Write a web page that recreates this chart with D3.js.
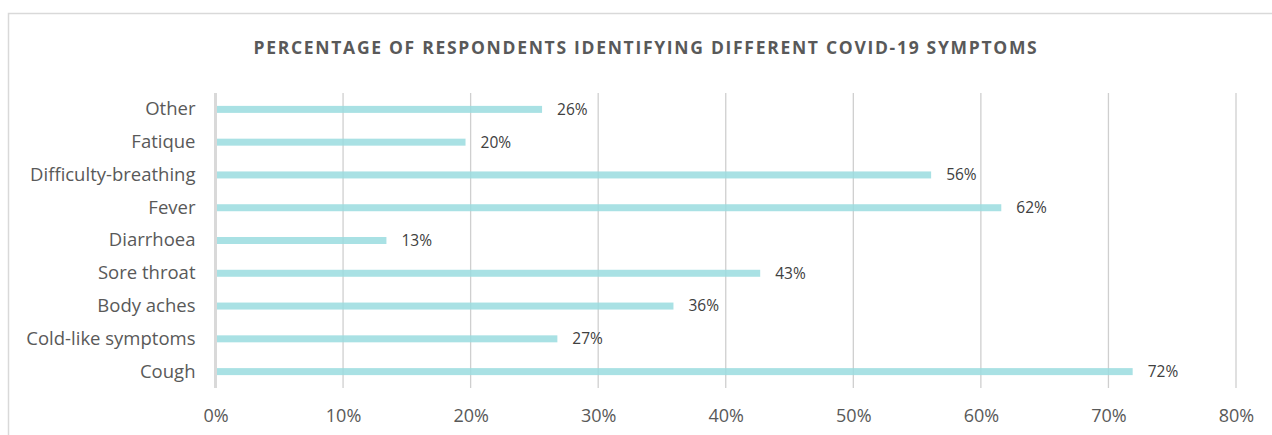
<!DOCTYPE html>
<html>
<head>
<meta charset="utf-8">
<script src="https://cdn.jsdelivr.net/npm/d3@7"></script>
<style>
  html, body { margin: 0; padding: 0; background: #fff; }
  svg { display: block; }
</style>
</head>
<body>
<svg id="chart" width="1272" height="435"></svg>
<script>
// Symptom categories, listed bottom-to-top as drawn
const categories = ["Cough", "Cold-like symptoms", "Body aches", "Sore throat", "Diarrhoea",
                    "Fever", "Difficulty-breathing", "Fatique", "Other"];
// Share of respondents (%) identifying each symptom
const values = [71.9, 26.8, 35.9, 42.7, 13.4, 61.6, 56.1, 19.6, 25.6];
const tickValues = [0, 10, 20, 30, 40, 50, 60, 70, 80];
const title = "PERCENTAGE OF RESPONDENTS IDENTIFYING DIFFERENT COVID-19 SYMPTOMS";

const data = categories.map((c, i) => ({ c, v: values[i] }));

const svg = d3.select("#chart");
const W = 1272, H = 435;
const font = "'Open Sans', sans-serif";

// chart frame (left and top edges of the chart area)
svg.append("path")
  .attr("d", `M8.5,${H} L8.5,13.5 L${W},13.5`)
  .attr("fill", "none").attr("stroke", "#d9d9d9").attr("stroke-width", 1.5);

const x = d3.scaleLinear().domain([0, 80]).range([215.5, 1236]);
const y = d3.scaleBand().domain(categories.slice().reverse()).range([93, 388]).paddingInner(0.78).paddingOuter(0.39);

// title
svg.append("text")
  .attr("x", 646).attr("y", 53.5)
  .attr("text-anchor", "middle")
  .attr("font-family", font).attr("font-weight", "bold")
  .attr("font-size", 17.5).attr("letter-spacing", 1.7)
  .attr("fill", "#595959")
  .text(title);

// vertical gridlines
svg.append("g").selectAll("line")
  .data(tickValues.filter(d => d > 0))
  .join("line")
  .attr("x1", d => x(d)).attr("x2", d => x(d))
  .attr("y1", 93).attr("y2", 388)
  .attr("stroke", "#cfcfcf").attr("stroke-width", 1.3);

// bars
svg.append("g").selectAll("rect")
  .data(data)
  .join("rect")
  .attr("x", x(0))
  .attr("y", d => y(d.c) + y.bandwidth() / 2 - 3.5)
  .attr("width", d => x(d.v) - x(0))
  .attr("height", 7)
  .attr("fill", "#9adcdf")
  .attr("fill-opacity", 0.85);

// zero baseline
svg.append("line")
  .attr("x1", x(0)).attr("x2", x(0))
  .attr("y1", 93).attr("y2", 388)
  .attr("stroke", "#d9d9d9").attr("stroke-width", 3);

// value labels
svg.append("g").selectAll("text")
  .data(data)
  .join("text")
  .attr("x", d => x(d.v) + 15)
  .attr("y", d => y(d.c) + y.bandwidth() / 2)
  .attr("dy", "0.35em")
  .attr("font-family", font).attr("font-size", 15.5)
  .attr("fill", "#404040")
  .text(d => Math.round(d.v) + "%");

// category labels
const yAxis = d3.axisLeft(y).tickSize(0).tickPadding(20);
const gy = svg.append("g").attr("transform", `translate(${x(0)},0)`).call(yAxis);
gy.select(".domain").remove();
gy.selectAll("text")
  .attr("font-family", font).attr("font-size", 18.5)
  .attr("fill", "#595959");

// x-axis tick labels
const xAxis = d3.axisBottom(x).tickValues(tickValues).tickSize(0).tickPadding(0)
  .tickFormat(d => d + "%");
const gx = svg.append("g").attr("transform", `translate(0,409)`).call(xAxis);
gx.select(".domain").remove();
gx.selectAll("text")
  .attr("font-family", font).attr("font-size", 18)
  .attr("fill", "#595959");
</script>
</body>
</html>
